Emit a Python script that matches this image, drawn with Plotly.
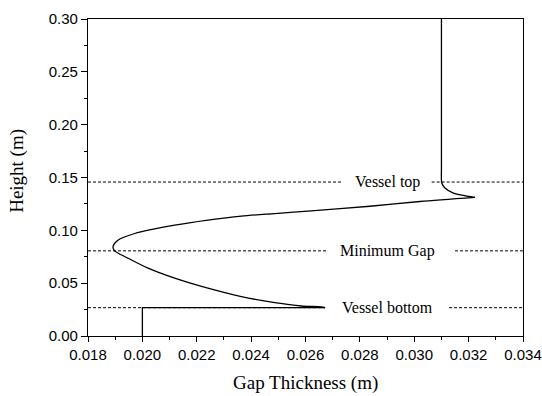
import plotly.graph_objects as go

# ---- data ----
# bottom step (vessel bottom)
step_x = [0.0200, 0.0200, 0.02672]
step_y = [0.0, 0.0268, 0.0268]
# gap curve from vessel bottom, through minimum, up to peak
branch_x = [0.02672, 0.02658, 0.02585, 0.02487, 0.02364, 0.02241, 0.02119, 0.02021,
            0.01947, 0.01898, 0.01892, 0.01910, 0.01972, 0.02119, 0.02241, 0.02364,
            0.02487, 0.02609, 0.02837, 0.03021, 0.03223]
branch_y = [0.0268, 0.0275, 0.0284, 0.0316, 0.0373, 0.0452, 0.0547, 0.0642,
            0.0737, 0.0806, 0.0844, 0.0907, 0.0970, 0.1049, 0.1097, 0.1135,
            0.1159, 0.1182, 0.1228, 0.1273, 0.1312]
# from peak back to the vessel-top wall and up
top_x = [0.03223, 0.03144, 0.03113, 0.03101, 0.03100, 0.03100]
top_y = [0.1312, 0.1353, 0.1400, 0.1450, 0.1600, 0.3000]

# reference levels
ref_labels = ["Vessel top", "Minimum Gap", "Vessel bottom"]
ref_levels = [0.1457, 0.0806, 0.0268]
ref_gap_start = [0.02732, 0.02683, 0.02672]
ref_gap_end = [0.03064, 0.03150, 0.03128]
label_x = 0.0290

x_range = [0.018, 0.034]
y_range = [0.0, 0.30]
x_ticks = [0.018, 0.020, 0.022, 0.024, 0.026, 0.028, 0.030, 0.032, 0.034]
y_ticks = [0.00, 0.05, 0.10, 0.15, 0.20, 0.25, 0.30]

serif = "Liberation Serif, Times New Roman, serif"

fig = go.Figure()
fig.add_trace(go.Scatter(x=step_x, y=step_y, mode="lines",
                         line=dict(color="black", width=1.3),
                         showlegend=False, hoverinfo="skip"))
fig.add_trace(go.Scatter(x=branch_x, y=branch_y, mode="lines",
                         line=dict(color="black", width=1.3, shape="spline", smoothing=0.8),
                         showlegend=False))
fig.add_trace(go.Scatter(x=top_x, y=top_y, mode="lines",
                         line=dict(color="black", width=1.3, shape="spline", smoothing=0.6),
                         showlegend=False))

for lab, lev, g0, g1 in zip(ref_labels, ref_levels, ref_gap_start, ref_gap_end):
    dash = dict(color="black", width=1, dash="3px,2px")
    fig.add_shape(type="line", xref="x", yref="y", x0=x_range[0], x1=g0, y0=lev, y1=lev,
                  line=dash, layer="below")
    fig.add_shape(type="line", xref="x", yref="y", x0=g1, x1=x_range[1], y0=lev, y1=lev,
                  line=dash, layer="below")
    fig.add_annotation(x=label_x, y=lev, xref="x", yref="y", text=lab, showarrow=False,
                       xanchor="center", yanchor="middle",
                       font=dict(family=serif, size=16, color="black"))

# axis titles
fig.add_annotation(x=0.5, y=0, xref="paper", yref="paper", yshift=-47,
                   text="Gap Thickness (m)", showarrow=False, xanchor="center",
                   yanchor="middle", font=dict(family=serif, size=19, color="black"))
fig.add_annotation(x=0, y=0.521, xref="paper", yref="paper", xshift=-71,
                   text="Height (m)", showarrow=False, textangle=-90,
                   xanchor="center", yanchor="middle",
                   font=dict(family=serif, size=19, color="black"))

tick_font = dict(family="Liberation Sans, Arial, sans-serif", size=15, color="black")
fig.update_xaxes(range=x_range, tickvals=x_ticks, ticktext=[f"{v:.3f}" for v in x_ticks],
                 ticks="outside", ticklen=5, tickwidth=1, tickcolor="black",
                 showline=True, linecolor="black", linewidth=1.2, mirror=True,
                 showgrid=False, zeroline=False, tickfont=tick_font,
                 automargin=False, ticklabeloverflow="allow",
                 minor=dict(ticks="outside", ticklen=3, tickwidth=1, tickcolor="black",
                            dtick=0.001, tick0=0.018, showgrid=False))
fig.update_yaxes(range=y_range, tickvals=y_ticks, ticktext=[f"{v:.2f}" for v in y_ticks],
                 ticks="outside", ticklen=6, tickwidth=1, tickcolor="black",
                 showline=True, linecolor="black", linewidth=1.2, mirror=True,
                 showgrid=False, zeroline=False, tickfont=tick_font,
                 automargin=False, ticklabeloverflow="allow",
                 minor=dict(ticks="outside", ticklen=3, tickwidth=1, tickcolor="black",
                            dtick=0.025, tick0=0.0, showgrid=False))

fig.update_layout(width=542, height=396, margin=dict(l=88, r=19, t=19, b=60),
                  plot_bgcolor="white", paper_bgcolor="white", showlegend=False)

# remove the default page margin so the figure fills the 542x396 window exactly
fig.write_html("out.html",
               config={"displayModeBar": False},
               post_script="document.body.style.margin='0';"
                           "document.body.style.overflow='hidden';")
